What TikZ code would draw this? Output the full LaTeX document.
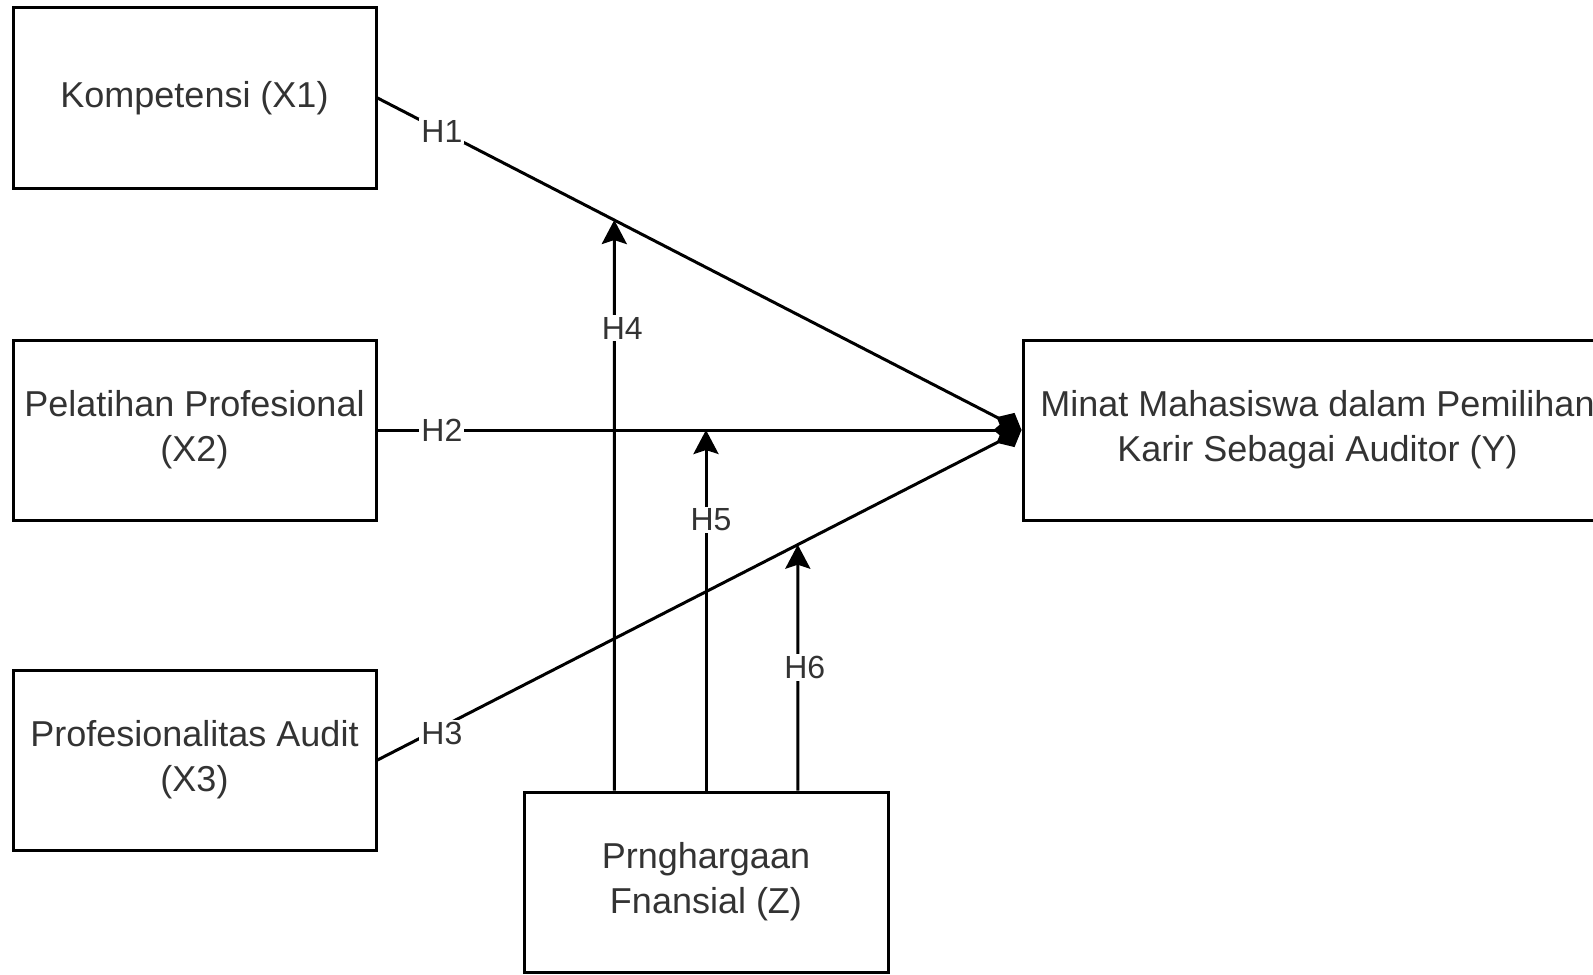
\documentclass[tikz,border=0pt]{standalone}
\usepackage{fontspec}
\setmainfont{Liberation Sans}
\usetikzlibrary{positioning,arrows.meta,calc}

\begin{document}
\begin{tikzpicture}[x=0.5pt,y=-0.5pt]

\tikzstyle{block} = [draw, rectangle, line width=1.5pt, align=center, minimum width=181.5pt, minimum height=90pt, text=black!80, font=\fontsize{18}{22.5}\selectfont]
\tikzstyle{hyp} = [line width=1.5pt, -{Diamond[length=14pt,width=12pt]}]
\tikzstyle{mod} = [line width=1.5pt, -{Stealth[length=12pt,width=12.5pt,inset=2pt]}]
\tikzstyle{lbl} = [fill=white, inner sep=1pt, text=black!80, font=\fontsize{16}{19}\selectfont]

\useasboundingbox (0,0) rectangle (1593,974);

% Independent variables
\node [block] (x1) at (194.5,98) {Kompetensi (X1)};
\node [block, below=74.5pt of x1] (x2) {Pelatihan Profesional\\(X2)};
\node [block, below=73.5pt of x2] (x3) {Profesionalitas Audit\\(X3)};

% Dependent variable
\node [block, right=322pt of x2, minimum width=294.5pt] (y) {Minat Mahasiswa dalam Pemilihan\\Karir Sebagai Auditor (Y)};

% Moderating variable
\node [block, minimum width=182pt] (z) at (706,882) {Prnghargaan\\Fnansial (Z)};

% Direct effects
\draw [hyp] (x1.east) -- node[lbl, pos=0.1] {H1} (y.west);
\draw [hyp] (x2.east) -- node[lbl, pos=0.1] {H2} (y.west);
\draw [hyp] (x3.east) -- node[lbl, pos=0.1, yshift=-3pt] {H3} (y.west);

% Moderation
\coordinate (b4) at ($(z.north west)!0.25!(z.north east)$);
\coordinate (b6) at ($(z.north west)!0.75!(z.north east)$);
\path (intersection cs: first line={(x1.east)--(y.west)}, second line={(b4)--([yshift=1cm]b4)}) coordinate (t4);
\path (intersection cs: first line={(x3.east)--(y.west)}, second line={(b6)--([yshift=1cm]b6)}) coordinate (t6);
\draw [mod] (b4) -- node[lbl, pos=0.81, xshift=4pt] {H4} (t4);
\draw [mod] (z.north) -- node[lbl, pos=0.75, xshift=2.5pt] {H5} (z.north |- x2.east);
\draw [mod] (b6) -- node[lbl, pos=0.5, xshift=3.5pt] {H6} (t6);

\end{tikzpicture}
\end{document}
